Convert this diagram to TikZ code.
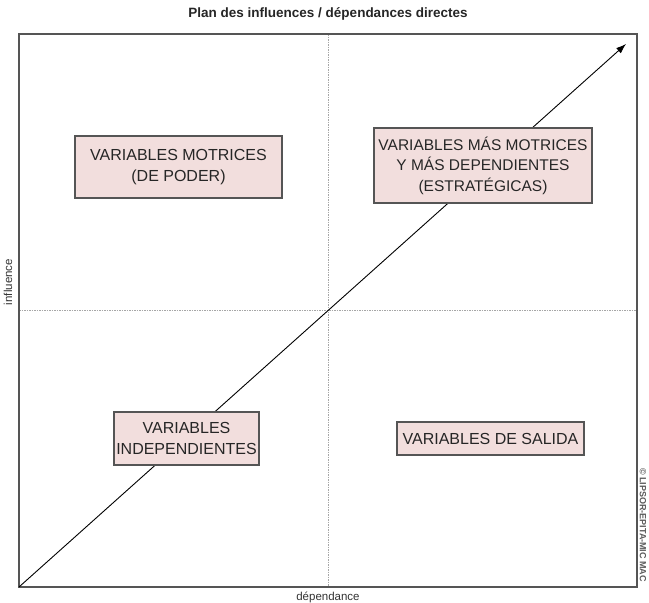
\documentclass[tikz,border=0pt]{standalone}
\usepackage{fontspec}
\setmainfont{Liberation Sans}
\usetikzlibrary{arrows.meta}
\definecolor{boxfill}{HTML}{F2DEDD}
\definecolor{boxline}{HTML}{555555}
\definecolor{frameline}{HTML}{555555}
\tikzset{
  quad/.style={draw=boxline, line width=1.1pt, fill=boxfill, align=center, inner sep=0pt,
    font=\fontsize{16}{20.5}\selectfont, text=black!85},
  guide/.style={draw=gray!70, line width=0.6pt, dash pattern=on 1.5pt off 1pt},
  small/.style={font=\fontsize{11.5}{12}\selectfont, text=black!80},
}
\begin{document}
\begin{tikzpicture}[x=1pt, y=-1pt]
\useasboundingbox (0,0) rectangle (649,603);
\node[font=\bfseries\fontsize{13.5}{15}\selectfont, text=black!85] (title) at (328,14) {Plan des influences / dépendances directes};
\coordinate (bl) at (19,587);
\coordinate (tr) at (637,34);
\coordinate (vtop) at (328,34);
\coordinate (vbot) at (328,587);
\coordinate (hl) at (19,310);
\coordinate (hr) at (637,310);
\coordinate (tip) at (626,44);
\draw[guide] (vtop) -- (vbot);
\draw[guide] (hl) -- (hr);
\draw[draw=frameline, line width=1.3pt] (bl) rectangle (tr);
\draw[line width=0.9pt, -{Latex[length=10pt,width=7pt]}] (bl) -- (tip);
\node[quad, minimum width=207pt, minimum height=62pt] (motr) at (178.5,167) {VARIABLES MOTRICES\\(DE PODER)};
\node[quad, minimum width=218pt, minimum height=75pt, font=\fontsize{15.5}{20.5}\selectfont] (estr) at (483,165.5) {VARIABLES MÁS MOTRICES\\Y MÁS DEPENDIENTES\\(ESTRATÉGICAS)};
\node[quad, minimum width=145pt, minimum height=53pt] (indep) at (186.5,438.5) {VARIABLES\\INDEPENDIENTES};
\node[quad, minimum width=187pt, minimum height=33pt] (sal) at (490.5,438.5) {VARIABLES DE SALIDA};
\node[small, rotate=90] (infl) at (8,282) {influence};
\node[small] (dep) at (328,597) {dépendance};
\node[font=\bfseries\fontsize{9}{10}\selectfont, text=black!65, rotate=-90] (copy) at (643,525) {© LIPSOR-EPITA-MIC MAC};
\end{tikzpicture}
\end{document}
